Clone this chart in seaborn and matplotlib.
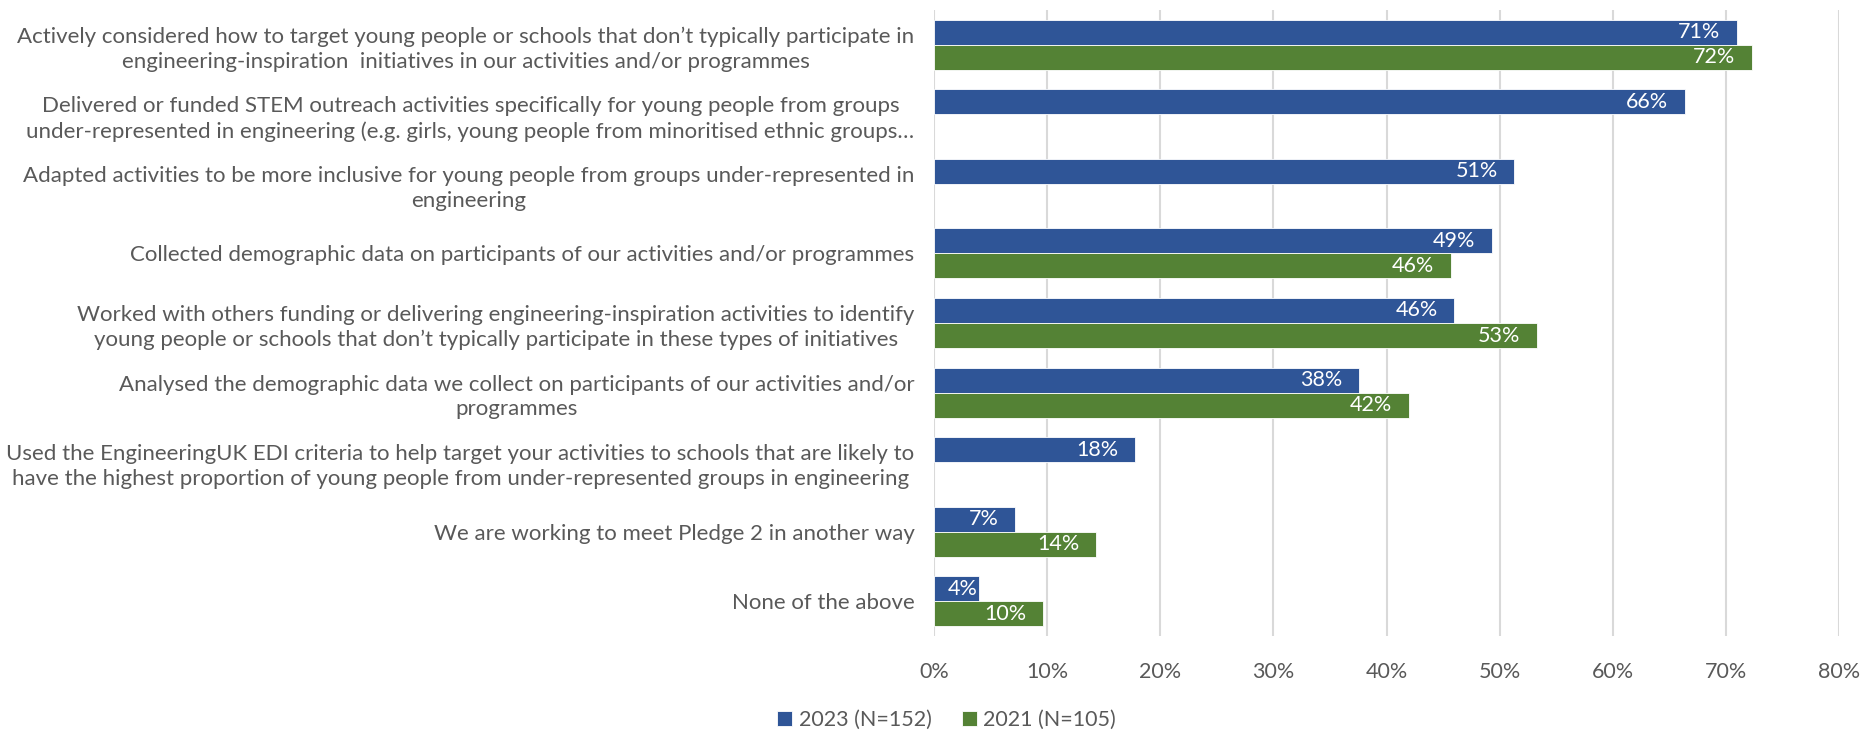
import matplotlib
matplotlib.use("Agg")
import matplotlib.pyplot as plt
import numpy as np
import pandas as pd
import seaborn as sns

# survey statements (wrapped the way the original chart wraps them)
categories = [
    "Actively considered how to target young people or schools that don\u2019t typically participate in\n"
    "engineering-inspiration  initiatives in our activities and/or programmes",
    "Delivered or funded STEM outreach activities specifically for young people from groups\n"
    "under-represented in engineering (e.g. girls, young people from minoritised ethnic groups\u2026",
    "Adapted activities to be more inclusive for young people from groups under-represented in\n"
    "engineering",
    "Collected demographic data on participants of our activities and/or programmes",
    "Worked with others funding or delivering engineering-inspiration activities to identify\n"
    "young people or schools that don\u2019t typically participate in these types of initiatives",
    "Analysed the demographic data we collect on participants of our activities and/or\n"
    "programmes",
    "Used the EngineeringUK EDI criteria to help target your activities to schools that are likely to\n"
    "have the highest proportion of young people from under-represented groups in engineering",
    "We are working to meet Pledge 2 in another way",
    "None of the above",
]
series_names = ["2023 (N=152)", "2021 (N=105)"]
pct_2023 = [71.0, 66.4, 51.3, 49.3, 46.0, 37.6, 17.8, 7.2, 4.0]
pct_2021 = [72.3, np.nan, np.nan, 45.7, 53.3, 42.0, np.nan, 14.3, 9.6]
xticks = [0, 10, 20, 30, 40, 50, 60, 70, 80]

BLUE = "#2F5597"
GREEN = "#548235"
GREY_TXT = "#595959"

df = pd.DataFrame({
    "statement": categories * 2,
    "year": [series_names[0]] * len(categories) + [series_names[1]] * len(categories),
    "pct": pct_2023 + pct_2021,
})

sns.set_style("white")
plt.rcParams["font.family"] = ["Lato", "DejaVu Sans"]

fig = plt.figure(figsize=(18.67, 7.31), dpi=100)
ax = fig.add_axes([934 / 1867, 1 - 636 / 731, (1839 - 934) / 1867, 626 / 731])

sns.barplot(data=df, y="statement", x="pct", hue="year", orient="h",
            order=categories, hue_order=series_names,
            palette=[BLUE, GREEN], saturation=1, width=0.72,
            edgecolor="white", linewidth=0.6, errorbar=None, ax=ax)

handles, labels = ax.get_legend_handles_labels()
ax.legend_.remove()

# value labels inside the bar ends
for cont in ax.containers:
    for p in cont.patches:
        w = p.get_width()
        if not np.isfinite(w) or w <= 0:
            continue
        off = -12 if w > 5 else -1
        ax.annotate(f"{w:.0f}%", xy=(w, p.get_y() + p.get_height() / 2),
                    xytext=(off, 0), textcoords="offset points",
                    ha="right", va="center", color="white", fontsize=15.5)

ax.set_xlim(0, 80)
ax.set_ylim(len(categories) - 0.5, -0.5)
ax.set_xticks(xticks)
ax.set_xticklabels([f"{t}%" for t in xticks])
ax.set_xlabel("")
ax.set_ylabel("")
ax.grid(axis="x", color="#D9D9D9", linewidth=1.5)
ax.grid(axis="y", visible=False)
ax.set_axisbelow(True)
for s in ax.spines.values():
    s.set_visible(False)

ax.tick_params(axis="x", length=0, pad=19, labelsize=15.5, labelcolor=GREY_TXT)
ax.tick_params(axis="y", length=0, pad=14, labelsize=16, labelcolor=GREY_TXT)
for t in ax.get_yticklabels():
    t.set_multialignment("center")
    t.set_linespacing(1.3)

fig.legend(handles, labels, loc="center", bbox_to_anchor=(0.507, 1 - 720 / 731),
           ncol=2, frameon=False, fontsize=15.5, labelcolor=GREY_TXT,
           handlelength=0.7, handleheight=0.7, handletextpad=0.3,
           columnspacing=1.4, borderaxespad=0)

fig.savefig("out.png", dpi=100, facecolor="white")
